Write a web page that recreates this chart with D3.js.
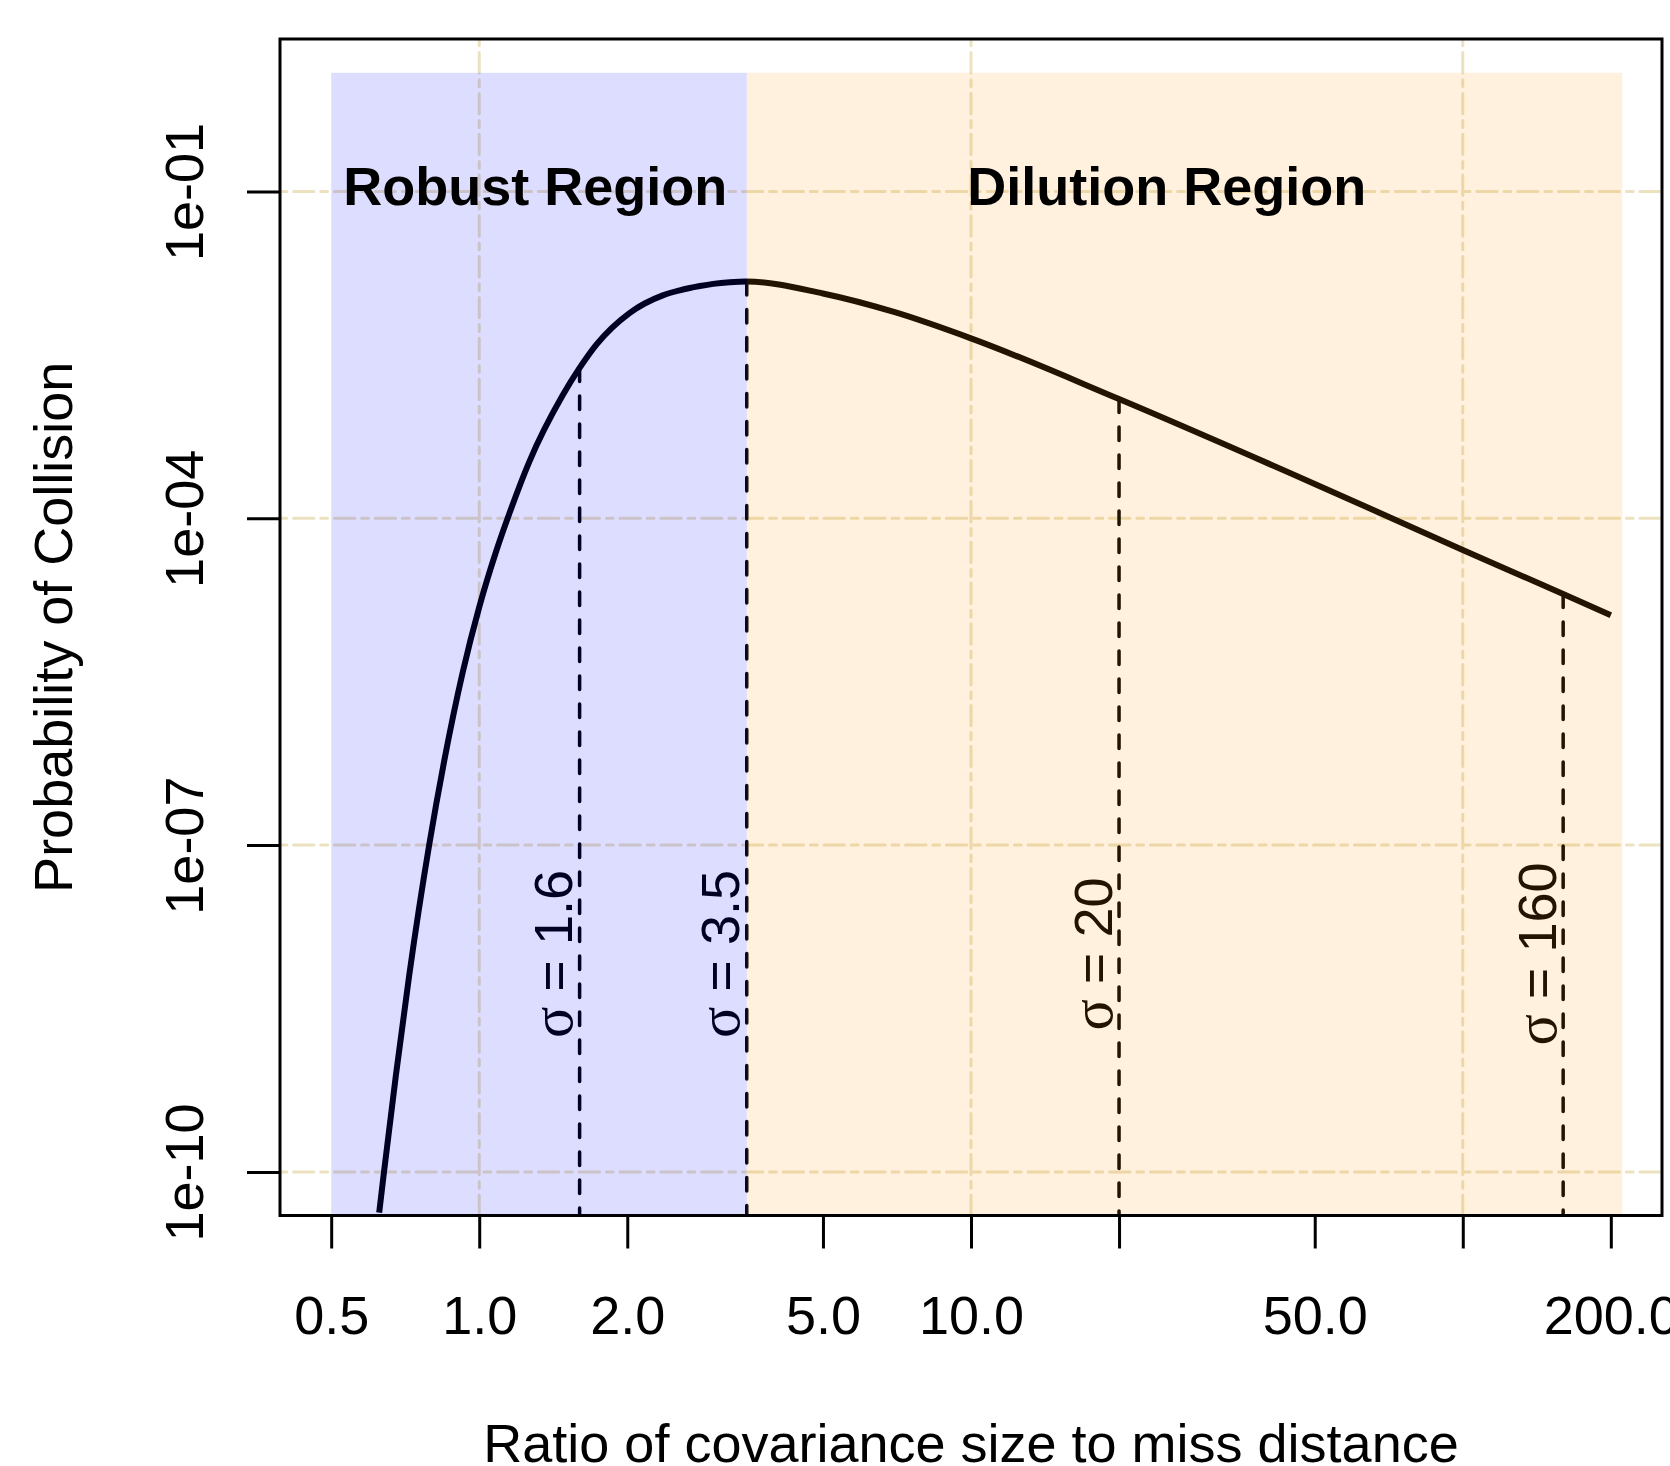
<!DOCTYPE html>
<html>
<head>
<meta charset="utf-8">
<script src="https://cdn.jsdelivr.net/npm/d3@7"></script>
<style>
  body { margin: 0; background: #fff; }
  svg { display: block; font-family: "Liberation Sans", Arial, Helvetica, sans-serif; }
</style>
</head>
<body>
<div class="area"></div>
<script>
// curve
const ratio = [0.626, 0.641, 0.677, 0.72, 0.791, 0.849, 0.925, 1.0, 1.081, 1.151, 1.264, 1.478, 1.6, 1.729,
  2.021, 2.362, 2.558, 2.81, 2.99, 3.233, 3.5, 5, 7, 10, 20, 50, 100, 160, 200]
const pc = [4.23e-11, 1.045e-10, 7.73e-10, 6.25e-9, 1.0e-7, 5.96e-7, 3.81e-6, 1.53e-5, 4.88e-5, 1.10e-4,
  3.30e-4, 1.346e-3, 2.40e-3, 3.91e-3, 7.66e-3, 1.114e-2, 1.239e-2, 1.355e-2, 1.419e-2, 1.469e-2,
  1.49e-2, 1.159e-2, 7.80e-3, 4.49e-3, 1.245e-3, 2.07e-4, 5.13e-5, 2.02e-5, 1.29e-5]

const xTickValues = [0.5, 1, 2, 5, 10, 20, 50, 100, 200]
const xTickLabels = ["0.5", "1.0", "2.0", "5.0", "10.0", "", "50.0", "", "200.0"]
const yTickValues = [1e-1, 1e-4, 1e-7, 1e-10]
const yTickLabels = ["1e-01", "1e-04", "1e-07", "1e-10"]
const gridX = [1, 10, 100]

const sigmaMarks = [1.6, 3.5, 20, 160]
const sigmaPc = [2.40e-3, 1.49e-2, 1.245e-3, 2.02e-5]
const sigmaLabelAt = 1e-8

const regionNames = ["Robust Region", "Dilution Region"]
const regionStart = [0.5, 3.5]
const regionEnd = [3.5, 211]
const regionLabelX = [1.3, 25]
const regionLabelY = 0.1
const regionTop = 1.23

const xlim = [0.5, 200]
const ylim = [1e-10, 1]

const width = 1670
const height = 1466
const plot = {left: 280, right: 1662, top: 39, bottom: 1215.5}
const fontSize = 54
const blueOverlay = "rgba(0, 0, 255, 0.133)"
const orangeOverlay = "rgba(255, 150, 0, 0.133)"
const gridColor = "#ece2c0"

// R style 4% padding on log axes
function padLog(lim) {
  const a = Math.log10(lim[0]), b = Math.log10(lim[1])
  const p = (b - a) * 0.04
  return [Math.pow(10, a - p), Math.pow(10, b + p)]
}

const svg = d3.select(".area")
  .append("svg")
  .attr("width", width)
  .attr("height", height)
  .attr("viewBox", [0, 0, width, height])

svg.append("rect").attr("width", width).attr("height", height).attr("fill", "#fff")

const x = d3.scaleLog().domain(padLog(xlim)).range([plot.left, plot.right])
const y = d3.scaleLog().domain(padLog(ylim)).range([plot.bottom, plot.top])

svg.append("clipPath").attr("id", "clip")
  .append("rect")
  .attr("x", plot.left).attr("y", plot.top)
  .attr("width", plot.right - plot.left).attr("height", plot.bottom - plot.top)

const inner = svg.append("g").attr("clip-path", "url(#clip)")
const gridLayer = inner.append("g")
const lineLayer = inner.append("g")
const overlayLayer = inner.append("g")
const textLayer = svg.append("g")
const axisLayer = svg.append("g")

// grid
gridLayer.selectAll(".gx")
  .data(gridX)
  .enter()
  .append("line")
  .attr("x1", d => x(d)).attr("x2", d => x(d))
  .attr("y1", plot.top).attr("y2", plot.bottom)
gridLayer.selectAll(".gy")
  .data(yTickValues)
  .enter()
  .append("line")
  .attr("x1", plot.left).attr("x2", plot.right)
  .attr("y1", d => y(d)).attr("y2", d => y(d))
gridLayer.selectAll("line")
  .attr("stroke", gridColor)
  .attr("stroke-width", 3)
  .attr("stroke-linecap", "round")
  .attr("stroke-dasharray", "6.8 6.8 20.4 6.8")

// curve
const line = d3.line()
  .x(d => x(d[0]))
  .y(d => y(d[1]))
  .curve(d3.curveMonotoneX)

lineLayer.append("path")
  .datum(d3.zip(ratio, pc))
  .attr("fill", "none")
  .attr("stroke", "#000")
  .attr("stroke-width", 6)
  .attr("stroke-linejoin", "round")
  .attr("d", line)

// sigma markers
lineLayer.selectAll(".mark")
  .data(d3.zip(sigmaMarks, sigmaPc))
  .enter()
  .append("line")
  .attr("x1", d => x(d[0])).attr("x2", d => x(d[0]))
  .attr("y1", d => y(d[1])).attr("y2", y(y.domain()[0]))
  .attr("stroke", "#000")
  .attr("stroke-width", 3.5)
  .attr("stroke-linecap", "round")
  .attr("stroke-dasharray", "13.5 14.5")

const sigmaText = lineLayer.selectAll(".slab")
  .data(sigmaMarks)
  .enter()
  .append("text")
  .attr("transform", d => `translate(${x(d) - 7.5}, ${y(sigmaLabelAt)}) rotate(-90)`)
  .attr("text-anchor", "middle")
  .attr("font-size", fontSize)
  .attr("fill", "#000")
sigmaText.append("tspan")
  .attr("font-family", "'Liberation Serif', 'DejaVu Serif', serif")
  .attr("font-size", fontSize * 1.08)
  .text("σ")
sigmaText.append("tspan").text(d => " = " + d)

// shaded regions laid over the curve
overlayLayer.selectAll("rect")
  .data(d3.range(regionNames.length))
  .enter()
  .append("rect")
  .attr("x", i => x(regionStart[i]))
  .attr("width", i => x(regionEnd[i]) - x(regionStart[i]))
  .attr("y", y(regionTop))
  .attr("height", y(y.domain()[0]) - y(regionTop))
  .attr("fill", i => i === 0 ? blueOverlay : orangeOverlay)

textLayer.selectAll("text")
  .data(d3.range(regionNames.length))
  .enter()
  .append("text")
  .attr("x", i => x(regionLabelX[i]))
  .attr("y", y(regionLabelY) + 13)
  .attr("text-anchor", "middle")
  .attr("font-size", fontSize)
  .attr("font-weight", "bold")
  .text(i => regionNames[i])

// axes
const xAxis = axisLayer.append("g")
  .attr("transform", `translate(0, ${plot.bottom})`)
  .call(d3.axisBottom(x).tickValues(xTickValues).tickFormat((d, i) => xTickLabels[i]).tickSize(33))
xAxis.select(".domain").remove()
xAxis.selectAll(".tick line").attr("stroke", "#000").attr("stroke-width", 3)
xAxis.selectAll(".tick text")
  .attr("y", 1334 - plot.bottom).attr("dy", null)
  .attr("font-size", fontSize).attr("font-family", null).attr("fill", "#000")

const yAxis = axisLayer.append("g")
  .attr("transform", `translate(${plot.left}, 0)`)
  .call(d3.axisLeft(y).tickValues(yTickValues).tickFormat((d, i) => yTickLabels[i]).tickSize(33))
yAxis.select(".domain").remove()
yAxis.selectAll(".tick line").attr("stroke", "#000").attr("stroke-width", 3)
yAxis.selectAll(".tick text")
  .attr("x", null).attr("dy", null)
  .attr("transform", `translate(${203 - plot.left}, 0) rotate(-90)`)
  .attr("text-anchor", "middle")
  .attr("font-size", fontSize).attr("font-family", null).attr("fill", "#000")

axisLayer.append("rect")
  .attr("x", plot.left).attr("y", plot.top)
  .attr("width", plot.right - plot.left).attr("height", plot.bottom - plot.top)
  .attr("fill", "none")
  .attr("stroke", "#000")
  .attr("stroke-width", 3)

axisLayer.append("text")
  .attr("x", (plot.left + plot.right) / 2)
  .attr("y", 1462)
  .attr("text-anchor", "middle")
  .attr("font-size", fontSize)
  .text("Ratio of covariance size to miss distance")

axisLayer.append("text")
  .attr("transform", `translate(72, ${(plot.top + plot.bottom) / 2}) rotate(-90)`)
  .attr("text-anchor", "middle")
  .attr("font-size", fontSize)
  .text("Probability of Collision")
</script>
</body>
</html>
